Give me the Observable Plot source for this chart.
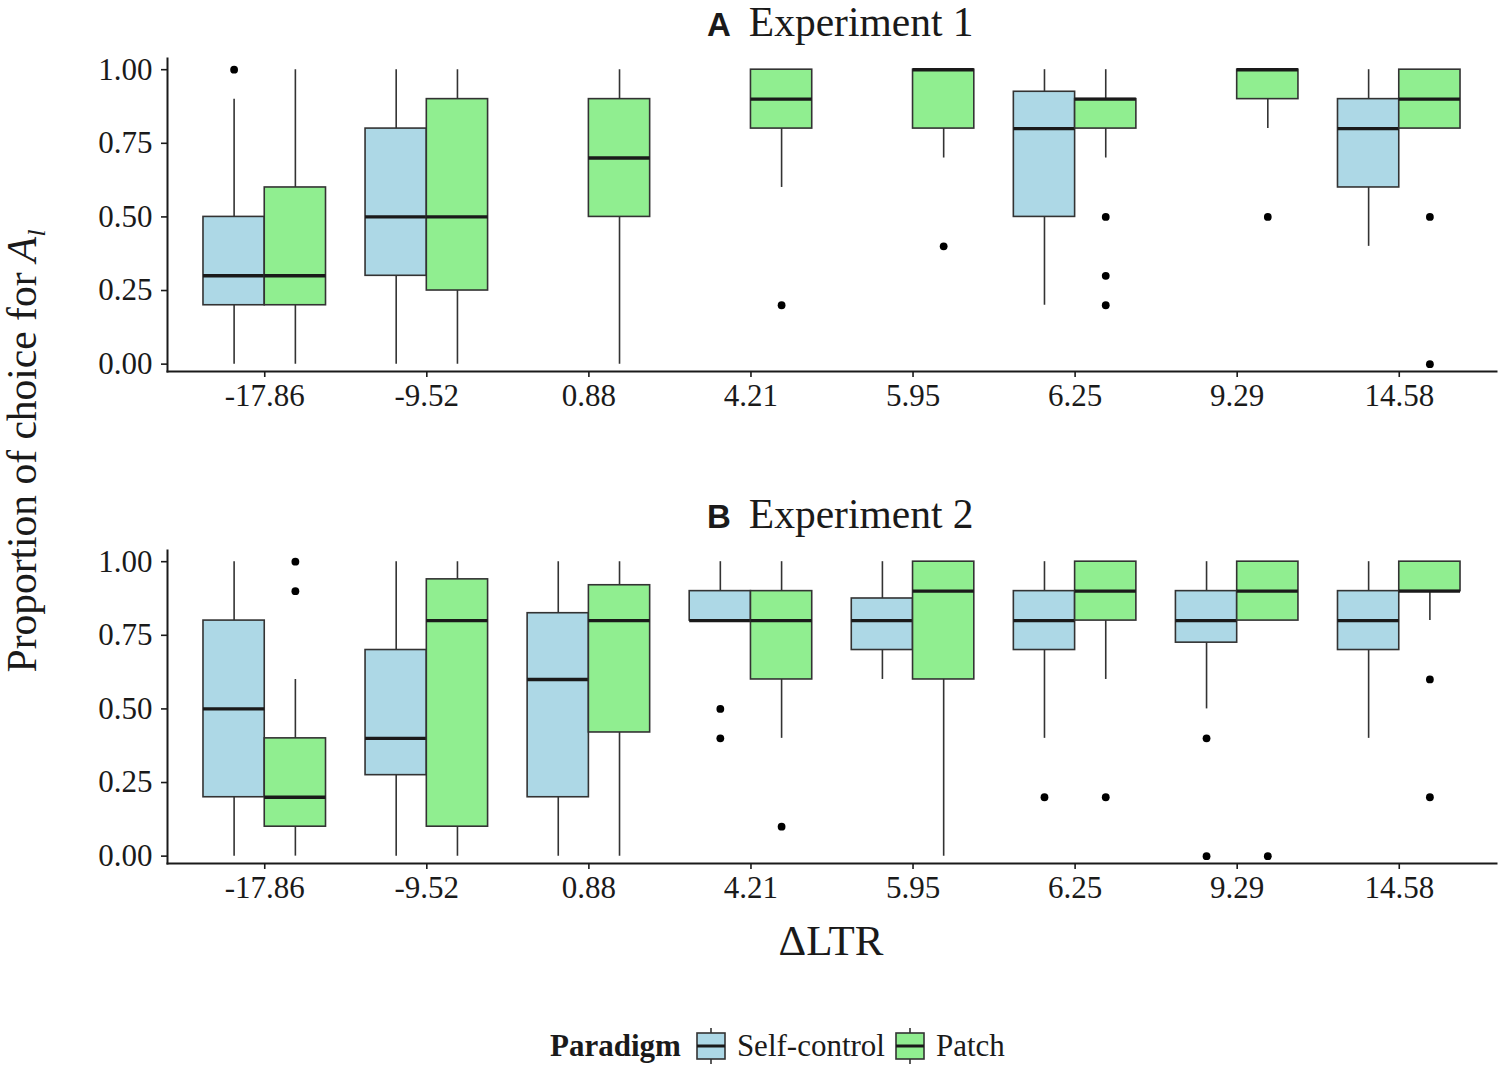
<!DOCTYPE html>
<html>
<head>
<meta charset="utf-8">
<script src="https://cdn.jsdelivr.net/npm/d3@7"></script>
<script src="https://cdn.jsdelivr.net/npm/@observablehq/plot@0.6"></script>
<style>
  body { margin: 0; background: #fff; }
  #root { position: relative; width: 1500px; height: 1070px; overflow: hidden; font-family: "Liberation Serif", "Times New Roman", serif; color: #1a1a1a; }
  .ptitle { position: absolute; left: 707px; white-space: nowrap; line-height: 45px; }
  .ptitle .tag { font-family: "Liberation Sans", Arial, sans-serif; font-weight: bold; font-size: 33px; margin-right: 18px; }
  .ptitle .txt { font-size: 41.5px; }
  .panel { position: absolute; left: 0; }
  #ylab { position: absolute; left: 29px; top: 451px; transform: translate(-50%, -50%) rotate(-90deg); white-space: nowrap; font-size: 41.5px; line-height: 44px; }
  #xlab { position: absolute; left: 831px; top: 920px; transform: translateX(-50%); font-size: 43px; line-height: 42px; white-space: nowrap; }
  #legend { position: absolute; left: 550px; top: 1028px; display: flex; align-items: center; font-size: 31px; line-height: 36px; white-space: nowrap; }
  #legend b { margin-right: 15px; }
  #legend svg { display: block; }
</style>
</head>
<body>
<div id="root">
  <div class="ptitle" style="top:0px"><span class="tag">A</span><span class="txt">Experiment 1</span></div>
  <div class="panel" id="pA" style="top:40px"></div>
  <div class="ptitle" style="top:492px"><span class="tag">B</span><span class="txt">Experiment 2</span></div>
  <div class="panel" id="pB" style="top:532px"></div>
  <div id="ylab">Proportion of choice for <i>A</i><sub style="font-size:26px;font-style:italic;vertical-align:-9px">l</sub></div>
  <div id="xlab">ΔLTR</div>
  <div id="legend"></div>
</div>
<script>
// ---- categories and labels ----
const cats = ["-17.86", "-9.52", "0.88", "4.21", "5.95", "6.25", "9.29", "14.58"];
const paradigms = ["Self-control", "Patch"];
const colors = ["#ADD8E6", "#90EE90"];
const yTicks = [0, 0.25, 0.5, 0.75, 1];

// ---- Experiment 1, Self-control (null = no box) ----
const e1SelfLo  = [0,    0,    null, null, null, 0.2,   null, 0.4];
const e1SelfQ1  = [0.2,  0.3,  null, null, null, 0.5,   null, 0.6];
const e1SelfMed = [0.3,  0.5,  null, null, null, 0.8,   null, 0.8];
const e1SelfQ3  = [0.5,  0.8,  null, null, null, 0.925, null, 0.9];
const e1SelfHi  = [0.9,  1,    null, null, null, 1,     null, 1];
const e1SelfOut = [[1], [], [], [], [], [], [], []];

// ---- Experiment 1, Patch ----
const e1PatchLo  = [0,   0,    0,   0.6, 0.7, 0.7, 0.8, 0.8];
const e1PatchQ1  = [0.2, 0.25, 0.5, 0.8, 0.8, 0.8, 0.9, 0.8];
const e1PatchMed = [0.3, 0.5,  0.7, 0.9, 1,   0.9, 1,   0.9];
const e1PatchQ3  = [0.6, 0.9,  0.9, 1,   1,   0.9, 1,   1];
const e1PatchHi  = [1,   1,    1,   1,   1,   1,   1,   1];
const e1PatchOut = [[], [], [], [0.2], [0.4], [0.5, 0.3, 0.2], [0.5], [0.5, 0]];

// ---- Experiment 2, Self-control ----
const e2SelfLo  = [0,   0,     0,     0.8, 0.6,   0.4, 0.5,   0.4];
const e2SelfQ1  = [0.2, 0.275, 0.2,   0.8, 0.7,   0.7, 0.725, 0.7];
const e2SelfMed = [0.5, 0.4,   0.6,   0.8, 0.8,   0.8, 0.8,   0.8];
const e2SelfQ3  = [0.8, 0.7,   0.825, 0.9, 0.875, 0.9, 0.9,   0.9];
const e2SelfHi  = [1,   1,     1,     1,   1,     1,   1,     1];
const e2SelfOut = [[], [], [], [0.5, 0.4], [], [0.2], [0.4, 0], []];

// ---- Experiment 2, Patch ----
const e2PatchLo  = [0,   0,    0,    0.4, 0,   0.6, 0.8, 0.8];
const e2PatchQ1  = [0.1, 0.1,  0.42, 0.6, 0.6, 0.8, 0.8, 0.9];
const e2PatchMed = [0.2, 0.8,  0.8,  0.8, 0.9, 0.9, 0.9, 0.9];
const e2PatchQ3  = [0.4, 0.94, 0.92, 0.9, 1,   1,   1,   1];
const e2PatchHi  = [0.6, 1,    1,    1,   1,   1,   1,   1];
const e2PatchOut = [[1, 0.9], [], [], [0.1], [], [0.2], [0], [0.6, 0.2]];

// ---- layout ----
const W = 1500, H = 380, ML = 167, MR = 4, MT = 18, MB = 49;
const padIn = 0.244, padOut = 0.222;
const bw = d3.scaleBand().domain(cats).range([ML, W - MR]).paddingInner(padIn).paddingOuter(padOut).bandwidth();

function stats(lo, q1, med, q3, hi, p) {
  return cats.map((c, i) => ({cat: c, paradigm: p, lo: lo[i], q1: q1[i], med: med[i], q3: q3[i], hi: hi[i]}))
    .filter(d => d.q1 != null);
}
function outs(o, p) {
  return cats.flatMap((c, i) => o[i].map(v => ({cat: c, paradigm: p, v})));
}

function panel(groups) {
  const marks = [];
  groups.forEach(g => {
    const isSelf = g.paradigm === "Self-control";
    const off = isSelf ? -bw / 4 : bw / 4;
    const inset = isSelf ? {insetRight: bw / 2} : {insetLeft: bw / 2};
    marks.push(Plot.ruleX(g.box, {x: "cat", y1: "lo", y2: "hi", dx: off, stroke: "#333", strokeWidth: 1.6}));
    marks.push(Plot.barY(g.box, {x: "cat", y1: "q1", y2: "q3", fill: "paradigm", stroke: "#333", strokeWidth: 1.6, ...inset}));
    marks.push(Plot.tickY(g.box, {x: "cat", y: "med", stroke: "#1a1a1a", strokeWidth: 3.4, ...inset}));
    marks.push(Plot.dot(g.out, {x: "cat", y: "v", dx: off, r: 3.9, fill: "#000", stroke: "none"}));
  });
  return Plot.plot({
    width: W, height: H,
    marginLeft: ML, marginRight: MR, marginTop: MT, marginBottom: MB,
    style: {fontFamily: "Liberation Serif, Times New Roman, serif", fontSize: "31px", background: "transparent", color: "#1a1a1a"},
    x: {domain: cats, paddingInner: padIn, paddingOuter: padOut, round: false, axis: null},
    y: {domain: [-0.025, 1.038], axis: null},
    color: {domain: paradigms, range: colors},
    marks: [
      ...marks,
      Plot.frame({anchor: "left", stroke: "#1a1a1a", strokeWidth: 2}),
      Plot.frame({anchor: "bottom", stroke: "#1a1a1a", strokeWidth: 2}),
      Plot.axisY({ticks: yTicks, tickFormat: d3.format(".2f"), tickSize: 6, tickPadding: 9, fontSize: 31, label: null, stroke: "#1a1a1a", strokeWidth: 1.6, fill: "#1a1a1a"}),
      Plot.axisX({tickSize: 6, tickPadding: 6, fontSize: 31, label: null, stroke: "#1a1a1a", strokeWidth: 1.6, fill: "#1a1a1a"})
    ]
  });
}

document.getElementById("pA").append(panel([
  {paradigm: "Self-control", box: stats(e1SelfLo, e1SelfQ1, e1SelfMed, e1SelfQ3, e1SelfHi, "Self-control"), out: outs(e1SelfOut, "Self-control")},
  {paradigm: "Patch", box: stats(e1PatchLo, e1PatchQ1, e1PatchMed, e1PatchQ3, e1PatchHi, "Patch"), out: outs(e1PatchOut, "Patch")}
]));
document.getElementById("pB").append(panel([
  {paradigm: "Self-control", box: stats(e2SelfLo, e2SelfQ1, e2SelfMed, e2SelfQ3, e2SelfHi, "Self-control"), out: outs(e2SelfOut, "Self-control")},
  {paradigm: "Patch", box: stats(e2PatchLo, e2PatchQ1, e2PatchMed, e2PatchQ3, e2PatchHi, "Patch"), out: outs(e2PatchOut, "Patch")}
]));

// ---- legend ----
const legend = document.getElementById("legend");
const title = document.createElement("b");
title.textContent = "Paradigm";
legend.append(title);
const ns = "http://www.w3.org/2000/svg";
paradigms.forEach((p, i) => {
  const svg = document.createElementNS(ns, "svg");
  svg.setAttribute("width", 30); svg.setAttribute("height", 36);
  svg.style.marginRight = "11px";
  svg.innerHTML = `<line x1="15" x2="15" y1="0" y2="36" stroke="#333" stroke-width="1.6"/>
    <rect x="1" y="5" width="28" height="26" fill="${colors[i]}" stroke="#333" stroke-width="1.6"/>
    <line x1="1" x2="29" y1="18" y2="18" stroke="#1a1a1a" stroke-width="3"/>`;
  legend.append(svg);
  const s = document.createElement("span");
  s.textContent = p;
  s.style.marginRight = i === 0 ? "10px" : "0";
  legend.append(s);
});
</script>
</body>
</html>
